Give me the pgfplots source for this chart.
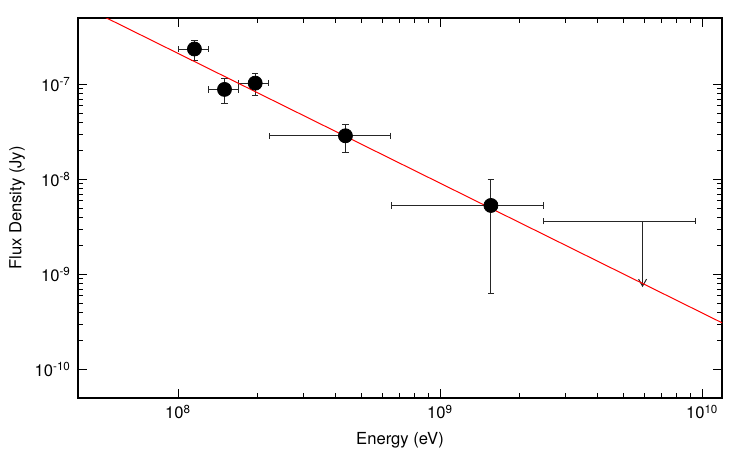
\documentclass[border=0pt]{standalone}
\usepackage{fontspec}
\setmainfont{TeX Gyre Heros}
\usepackage{pgfplots}
\usepackage{pgfplotstable}
\pgfplotsset{compat=1.18}
\usetikzlibrary{arrows.meta}

% Detected bins: energy, flux, asymmetric errors (linear units)
\pgfplotstableread{
x        y        exm      exp      eym       eyp
1.154e8  2.36e-7  0.154e8  0.153e8  0.57e-7   0.54e-7
1.503e8  8.86e-8  0.196e8  0.197e8  2.55e-8   2.62e-8
1.969e8  1.032e-7 0.269e8  0.251e8  0.26e-7   0.265e-7
4.35e8   2.88e-8  2.12e8   2.13e8   0.94e-8   0.94e-8
1.562e9  5.32e-9  0.912e9  0.913e9  4.685e-9  4.61e-9
}\fluxdata

% Upper-limit bin
\pgfplotstableread{
x        y        exm      exp
5.92e9   3.64e-9  3.45e9   3.47e9
}\uldata

\begin{document}
\begin{tikzpicture}
\begin{axis}[
  name=ax,
  width=322pt, height=190pt,
  scale only axis,
  xmode=log, ymode=log,
  xmin=4.15e7, xmax=1.19e10,
  ymin=5e-11, ymax=5e-7,
  axis line style={line width=0.8pt},
  every tick/.style={black, line width=0.5pt},
  major tick length=4.5pt, minor tick length=2.5pt,
  xtick={1e8,1e9,1e10},
  xticklabels={10\textsuperscript{8},10\textsuperscript{9},10\textsuperscript{10}},
  ytick={1e-10,1e-9,1e-8,1e-7},
  yticklabels={10\textsuperscript{-10},10\textsuperscript{-9},10\textsuperscript{-8},10\textsuperscript{-7}},
  tick label style={font=\fontsize{8.3}{10}\selectfont},
  label style={font=\fontsize{8.3}{10}\selectfont},
  xlabel={Energy (eV)},
  ylabel={Flux Density (Jy)},
  xlabel style={at={(axis description cs:0.5,-0.1105)}, anchor=center},
  ylabel style={at={(axis description cs:-0.0947,0.5)}, anchor=center},
  clip=true,
]
  % detections
  \addplot[only marks, mark=*, mark size=3.5pt, black,
    error bars/.cd, x dir=both, x explicit, y dir=both, y explicit,
    error bar style={line width=0.5pt, black!85},
    error mark options={rotate=90, mark size=1.6pt, line width=0.5pt, black!85}]
    table[x=x, y=y, x error plus=exp, x error minus=exm,
          y error plus=eyp, y error minus=eym] {\fluxdata};

  % upper limit: horizontal bar plus downward arrow
  \addplot[draw=none, mark=none,
    error bars/.cd, x dir=both, x explicit,
    error bar style={line width=0.5pt, black!85},
    error mark options={rotate=90, mark size=1.6pt, line width=0.5pt, black!85}]
    table[x=x, y=y, x error plus=exp, x error minus=exm] {\uldata};
  \addplot[black!85, line width=0.5pt, -{Straight Barb[length=3.5pt,width=4pt]}] coordinates {(5.92e9,3.64e-9) (5.92e9,7.35e-10)};

  % power-law fit
  \addplot[red, line width=0.5pt] coordinates {(4e7,7.41e-7) (1.2e10,3.06e-10)};
\end{axis}
\pgfresetboundingbox
\path[use as bounding box] (ax.south west) ++(-39pt,-26pt) rectangle ++(375pt,225pt);
\end{tikzpicture}
\end{document}
